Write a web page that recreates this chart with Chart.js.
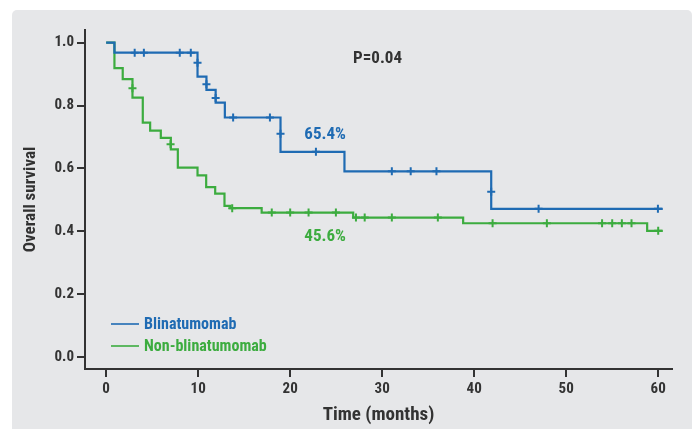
<!DOCTYPE html>
<html><head><meta charset="utf-8">
<style>html,body{margin:0;padding:0;background:#fff;}#wrap{width:697px;height:429px;position:relative;}</style>
<script src="https://cdn.jsdelivr.net/npm/chart.js@4.4.1/dist/chart.umd.min.js"></script>
</head><body><div id="wrap"><canvas id="c" width="697" height="429"></canvas></div>
<script>
// ---- data ----
const seriesNames = ["Blinatumomab", "Non-blinatumomab"];
const blinaStepTimes = [0, 0.9, 9.93, 10.9, 11.9, 12.9, 18.95, 25.9, 41.85, 60.5];
const blinaStepSurv  = [1.0, 0.968, 0.892, 0.850, 0.809, 0.762, 0.653, 0.591, 0.472, 0.472];
const blinaCensorTimes = [3.1, 4.1, 8.0, 9.2, 9.93, 10.9, 11.9, 13.8, 17.8, 18.95, 22.8, 31.05, 33.1, 35.9, 41.85, 47.0, 59.97];
const blinaCensorSurv  = [0.968, 0.968, 0.968, 0.968, 0.936, 0.868, 0.824, 0.762, 0.762, 0.710, 0.653, 0.591, 0.591, 0.591, 0.526, 0.472, 0.472];
const nonStepTimes = [0, 0.9, 1.8, 2.86, 3.98, 4.78, 5.94, 7.03, 7.79, 9.93, 10.87, 11.85, 12.86, 13.5, 16.9, 26.85, 38.8, 58.8, 60.5];
const nonStepSurv  = [1.0, 0.919, 0.884, 0.825, 0.746, 0.720, 0.697, 0.661, 0.603, 0.578, 0.541, 0.520, 0.481, 0.474, 0.460, 0.444, 0.426, 0.402, 0.402];
const nonCensorTimes = [2.86, 7.0, 13.7, 18.0, 20.0, 22.0, 24.97, 27.15, 28.1, 31.05, 36.05, 42.0, 47.9, 53.9, 55.0, 56.05, 57.1, 60.0];
const nonCensorSurv  = [0.855, 0.677, 0.474, 0.460, 0.460, 0.460, 0.460, 0.444, 0.444, 0.444, 0.444, 0.426, 0.426, 0.426, 0.426, 0.426, 0.426, 0.402];
const xTickValues = [0, 10, 20, 30, 40, 50, 60];
const yTickValues = [0, 0.2, 0.4, 0.6, 0.8, 1.0];
const pValueText = "P=0.04";
const blinaLabel = "65.4%";
const nonLabel = "45.6%";
const xTitle = "Time (months)";
const yTitle = "Overall survival";

// ---- styling ----
const FONT = "'Liberation Sans Narrow','Roboto Condensed','Arial Narrow',Roboto,sans-serif";
const BLUE = "#1f6bb3";
const GREEN = "#3cac3f";
const DARK = "#333333";

const zip = (t, s) => t.map((v, i) => ({x: v, y: s[i]}));

const annot = {
  id: 'annot',
  beforeDraw(chart) {
    const ctx = chart.ctx;
    ctx.save();
    ctx.fillStyle = '#ffffff';
    ctx.fillRect(0, 0, chart.width, chart.height);
    ctx.fillStyle = '#e6e7e9';
    ctx.beginPath();
    if (ctx.roundRect) ctx.roundRect(12, 10, 680, 440, 5); else ctx.rect(12, 10, 680, 440);
    ctx.fill();
    ctx.restore();
  },
  afterDatasetsDraw(chart) {
    const ctx = chart.ctx, xs = chart.scales.x, ys = chart.scales.y, a = chart.chartArea;
    ctx.save();
    ctx.textBaseline = 'middle';
    ctx.textAlign = 'center';
    ctx.font = "bold 17px " + FONT;
    ctx.fillStyle = DARK;
    ctx.fillText(pValueText, xs.getPixelForValue(29.5), ys.getPixelForValue(0.95));
    ctx.fillStyle = BLUE;
    ctx.fillText(blinaLabel, xs.getPixelForValue(23.8), ys.getPixelForValue(0.706));
    ctx.fillStyle = GREEN;
    ctx.fillText(nonLabel, xs.getPixelForValue(23.8), ys.getPixelForValue(0.382));
    // legend
    const lx = a.left + 26, ly = [a.top + 294, a.top + 316];
    const cols = [BLUE, GREEN];
    ctx.textAlign = 'left';
    ctx.font = "bold 16px " + FONT;
    seriesNames.forEach((n, i) => {
      ctx.strokeStyle = cols[i]; ctx.lineWidth = 1.6;
      ctx.beginPath(); ctx.moveTo(lx, ly[i]); ctx.lineTo(lx + 28, ly[i]); ctx.stroke();
      ctx.fillStyle = cols[i];
      ctx.fillText(n, lx + 33, ly[i] + 1);
    });
    ctx.restore();
  }
};

const axisGrid = {display: true, drawOnChartArea: false, drawTicks: true, tickLength: 8, color: DARK, lineWidth: 2};
const axisBorder = {display: true, color: DARK, width: 2};

new Chart(document.getElementById('c'), {
  type: 'line',
  data: {
    datasets: [
      {label: seriesNames[0], data: zip(blinaStepTimes, blinaStepSurv), stepped: 'before', borderColor: BLUE, borderWidth: 2.2, pointRadius: 0, fill: false, order: 1},
      {label: seriesNames[0] + ' censored', data: zip(blinaCensorTimes, blinaCensorSurv), showLine: false, pointStyle: 'cross', pointRadius: 4, borderColor: BLUE, backgroundColor: BLUE, pointBorderWidth: 2, order: 0},
      {label: seriesNames[1], data: zip(nonStepTimes, nonStepSurv), stepped: 'before', borderColor: GREEN, borderWidth: 2.2, pointRadius: 0, fill: false, order: 3},
      {label: seriesNames[1] + ' censored', data: zip(nonCensorTimes, nonCensorSurv), showLine: false, pointStyle: 'cross', pointRadius: 4, borderColor: GREEN, backgroundColor: GREEN, pointBorderWidth: 2, order: 2}
    ]
  },
  options: {
    responsive: false,
    animation: false,
    devicePixelRatio: 1,
    layout: {padding: {left: 0, top: 30, right: 25, bottom: 0}},
    plugins: {legend: {display: false}, tooltip: {enabled: false}},
    scales: {
      x: {
        type: 'linear', min: -2.3, max: 61.5,
        afterBuildTicks: s => { s.ticks = xTickValues.map(v => ({value: v})); },
        afterFit: s => { s.height = 60; },
        grid: axisGrid, border: axisBorder,
        ticks: {color: DARK, font: {family: FONT, size: 15, weight: 'bold'}, padding: 3, maxRotation: 0, callback: v => String(v)},
        title: {display: true, text: xTitle, color: DARK, font: {family: FONT, size: 19, weight: 'bold'}, padding: {top: 0, bottom: 2}}
      },
      y: {
        type: 'linear', min: -0.037, max: 1.04,
        afterBuildTicks: s => { s.ticks = yTickValues.map(v => ({value: v})); },
        afterFit: s => { s.width = 85; },
        grid: axisGrid, border: axisBorder,
        ticks: {color: DARK, font: {family: FONT, size: 15, weight: 'bold'}, padding: 3, callback: v => Number(v).toFixed(1)},
        title: {display: true, text: yTitle, color: DARK, font: {family: FONT, size: 17, weight: 'bold'}, padding: {top: 21, bottom: 0}}
      }
    }
  },
  plugins: [annot]
});
</script>
</body></html>
